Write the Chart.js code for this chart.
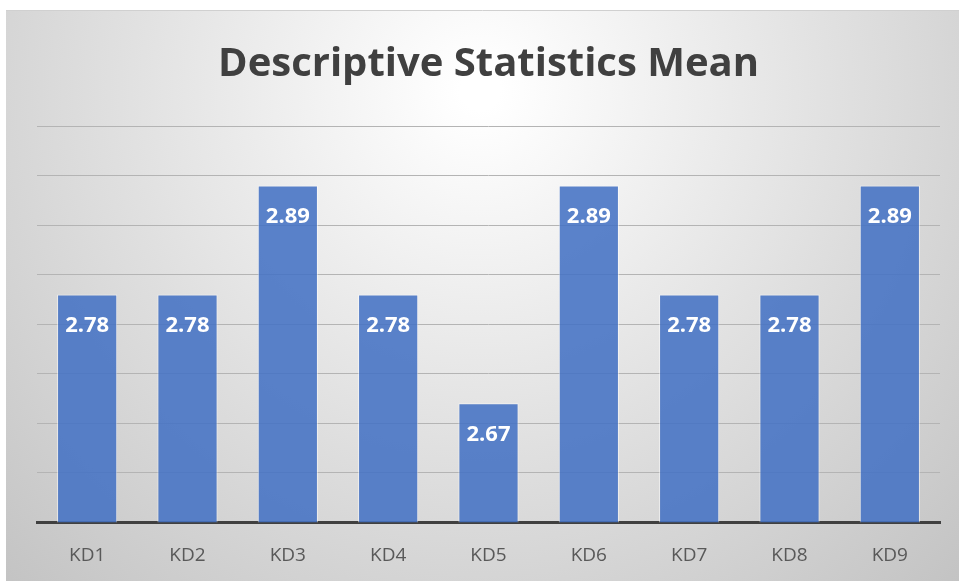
<!DOCTYPE html>
<html>
<head>
<meta charset="utf-8">
<script src="https://cdn.jsdelivr.net/npm/chart.js@4.4.1/dist/chart.umd.min.js"></script>
<style>
  html, body { margin: 0; padding: 0; background: #ffffff; }
  #wrap { width: 959px; height: 581px; position: relative; }
</style>
</head>
<body>
<div id="wrap"><canvas id="chart" width="959" height="581"></canvas></div>
<script>
const categories = ['KD1', 'KD2', 'KD3', 'KD4', 'KD5', 'KD6', 'KD7', 'KD8', 'KD9'];
const meanValues = [2.78, 2.78, 2.89, 2.78, 2.67, 2.89, 2.78, 2.78, 2.89];
const chartTitle = 'Descriptive Statistics Mean';

// gradient frame behind everything (Excel style)
const frameBackground = {
  id: 'frameBackground',
  beforeDraw(chart) {
    const ctx = chart.ctx;
    const x0 = 6, y0 = 10, x1 = chart.width, y1 = chart.height;
    ctx.save();
    const g = ctx.createRadialGradient(480, 90, 20, 480, 90, 700);
    g.addColorStop(0, '#ffffff');
    g.addColorStop(0.5, '#e0e0e0');
    g.addColorStop(1, '#c2c2c2');
    ctx.fillStyle = g;
    ctx.fillRect(x0, y0, x1 - x0, y1 - y0);
    ctx.strokeStyle = '#d0d0d0';
    ctx.lineWidth = 1;
    ctx.beginPath();
    ctx.moveTo(x0, y0 + 0.5);
    ctx.lineTo(x1, y0 + 0.5);
    ctx.stroke();
    ctx.restore();
  }
};

// white value labels inside the top of each bar
const barLabels = {
  id: 'barLabels',
  afterDatasetsDraw(chart) {
    const ctx = chart.ctx;
    const meta = chart.getDatasetMeta(0);
    ctx.save();
    ctx.fillStyle = '#ffffff';
    ctx.font = 'bold 22px "Open Sans", sans-serif';
    ctx.textAlign = 'center';
    ctx.textBaseline = 'middle';
    meta.data.forEach((bar, i) => {
      ctx.fillText(meanValues[i].toFixed(2), bar.x, bar.y + 31);
    });
    ctx.restore();
  }
};

new Chart(document.getElementById('chart'), {
  type: 'bar',
  data: {
    labels: categories,
    datasets: [{
      data: meanValues,
      backgroundColor: 'rgba(68, 114, 196, 0.88)',
      borderColor: 'rgba(255, 255, 255, 0.55)',
      borderWidth: 1,
      barPercentage: 0.6,
      categoryPercentage: 1.0
    }]
  },
  options: {
    responsive: false,
    animation: false,
    layout: {
      padding: { left: 37, right: 19, top: 0, bottom: 0 }
    },
    plugins: {
      legend: { display: false },
      tooltip: { enabled: false },
      title: {
        display: true,
        text: chartTitle,
        color: '#404040',
        font: { family: '"Open Sans", sans-serif', size: 40, weight: 'bold' },
        padding: { top: 41, bottom: 37 }
      }
    },
    scales: {
      x: {
        grid: { display: false },
        border: { display: true, color: '#404040', width: 3 },
        ticks: {
          color: '#595959',
          font: { family: '"Open Sans", sans-serif', size: 19 },
          padding: 14
        }
      },
      y: {
        min: 2.55,
        max: 2.95,
        ticks: { display: false, stepSize: 0.05 },
        border: { display: false },
        grid: { color: '#b4b4b4', lineWidth: 1, drawTicks: false }
      }
    }
  },
  plugins: [frameBackground, barLabels]
});
</script>
</body>
</html>
